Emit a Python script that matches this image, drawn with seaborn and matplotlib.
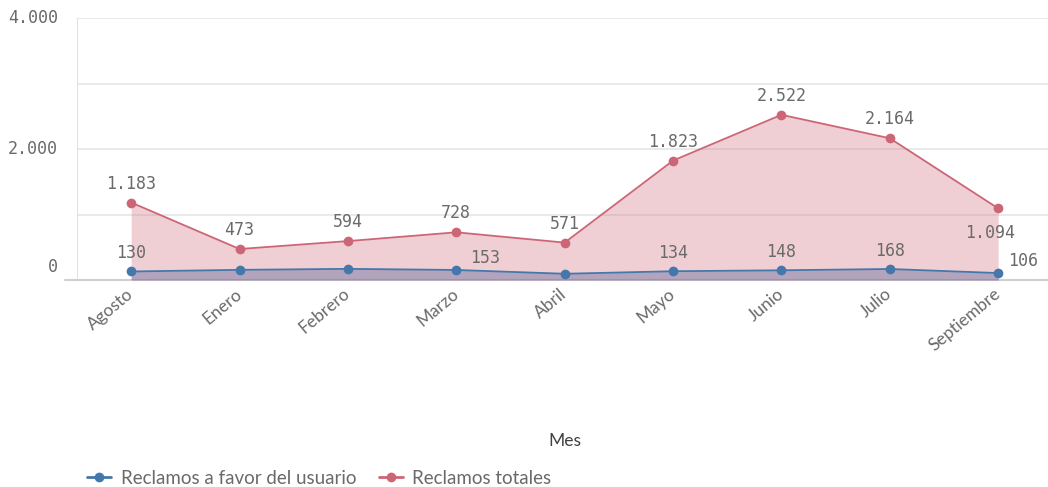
import matplotlib
matplotlib.use("Agg")
import matplotlib.pyplot as plt
import matplotlib.transforms as mtransforms
import seaborn as sns
import pandas as pd
from matplotlib.lines import Line2D

meses = ["Agosto", "Enero", "Febrero", "Marzo", "Abril", "Mayo", "Junio", "Julio", "Septiembre"]
reclamos_usuario = [130, 155, 170, 153, 95, 134, 148, 168, 106]
reclamos_totales = [1183, 473, 594, 728, 571, 1823, 2522, 2164, 1094]
y_ticks = [0, 2000, 4000]
y_tick_labels = ["0", "2.000", "4.000"]
serie_usuario = "Reclamos a favor del usuario"
serie_totales = "Reclamos totales"

BLUE = "#4477aa"
RED = "#cc6677"
GRAY = "#6a6a6a"

sns.set_style("white")
plt.rcParams["font.family"] = ["Lato", "DejaVu Sans"]

fig = plt.figure(figsize=(10.48, 4.87), dpi=100)
ax = fig.add_axes([77 / 1048, (487 - 280) / 487, (1048 - 77) / 1048, (280 - 18) / 487])

x = list(range(len(meses)))
df = pd.DataFrame({
    "x": x * 2,
    "valor": reclamos_totales + reclamos_usuario,
    "serie": [serie_totales] * len(meses) + [serie_usuario] * len(meses),
})

ax.fill_between(x, reclamos_totales, 0, color=RED, alpha=0.31, lw=0, zorder=1)
ax.fill_between(x, reclamos_usuario, 0, color="#6a70a5", alpha=0.45, lw=0, zorder=2)

sns.lineplot(data=df, x="x", y="valor", hue="serie",
             palette={serie_totales: RED, serie_usuario: BLUE},
             marker="o", markersize=7, markeredgewidth=0, linewidth=1.3,
             legend=False, ax=ax, zorder=3)

ax.set_xlim(-0.5, 8.46)
ax.set_ylim(0, 4000)

for g in [1000, 2000, 3000, 4000]:
    ax.axhline(g, color="#e6e6e6", lw=1.2, zorder=0)

for s in ["top", "right", "left", "bottom"]:
    ax.spines[s].set_visible(False)
ax.axvline(-0.5, color="#dcdcdc", lw=1.2, zorder=0)
ax.plot([-0.5 - 12 / 108.4, 8.46], [0, 0], color="#d0d0d0", lw=1.5, clip_on=False, zorder=0)

ax.set_yticks(y_ticks)
ax.set_yticklabels([])
ax.tick_params(axis="y", length=13, color="#dcdcdc", width=1.2, pad=2)
for v, lab in zip(y_ticks, y_tick_labels):
    va = "bottom" if v == 0 else "center"
    yy = 60 if v == 0 else v
    ax.text(-0.5 - 19 / 108.4, yy, lab, ha="right", va=va, fontsize=12,
            family="DejaVu Sans Mono", color=GRAY, clip_on=False)

ax.set_xticks(x)
ax.set_xticklabels(meses, rotation=40, ha="right", rotation_mode="anchor",
                   fontsize=12.5, color=GRAY)
ax.tick_params(axis="x", length=0, pad=4)
shift = mtransforms.ScaledTranslation(-5 / 100, 0, fig.dpi_scale_trans)
for lbl in ax.get_xticklabels():
    lbl.set_transform(lbl.get_transform() + shift)
ax.set_xlabel("Mes", fontsize=12.5, color="#404040", labelpad=0)
ax.xaxis.set_label_coords((565 - 77) / (1048 - 77), -(433 - 280) / 262)
ax.set_ylabel("")

num_kw = dict(fontsize=12, family="DejaVu Sans Mono", color=GRAY, zorder=5)
px = 4000 / 262.0

def fmt(v):
    return f"{v:,}".replace(",", ".")

for i, v in enumerate(reclamos_totales):
    if meses[i] == "Septiembre":
        ax.text(i - 8 / 108.4, v - 16 * px, fmt(v), ha="center", va="top", **num_kw)
    else:
        ax.text(i, v + 10 * px, fmt(v), ha="center", va="bottom", **num_kw)

for i, v in enumerate(reclamos_usuario):
    m = meses[i]
    if m in ("Enero", "Febrero", "Abril"):
        continue
    if m == "Marzo":
        ax.text(i + 29 / 108.4, v + 3 * px, fmt(v), ha="center", va="bottom", **num_kw)
    elif m == "Septiembre":
        ax.text(i + 25 / 108.4, v + 3 * px, fmt(v), ha="center", va="bottom", **num_kw)
    else:
        ax.text(i, v + 9 * px, fmt(v), ha="center", va="bottom", **num_kw)

handles = [
    Line2D([0], [0], color=BLUE, marker="o", markersize=7, markeredgewidth=0, lw=2),
    Line2D([0], [0], color=RED, marker="o", markersize=7, markeredgewidth=0, lw=2),
]
fig.legend(handles, [serie_usuario, serie_totales], loc="center left",
           bbox_to_anchor=(70 / 1048, 1 - 478 / 487), ncol=2, frameon=False,
           fontsize=13.5, labelcolor=GRAY, handlelength=1.3, handletextpad=0.5,
           columnspacing=1.2)

fig.savefig("out.png", dpi=100)
